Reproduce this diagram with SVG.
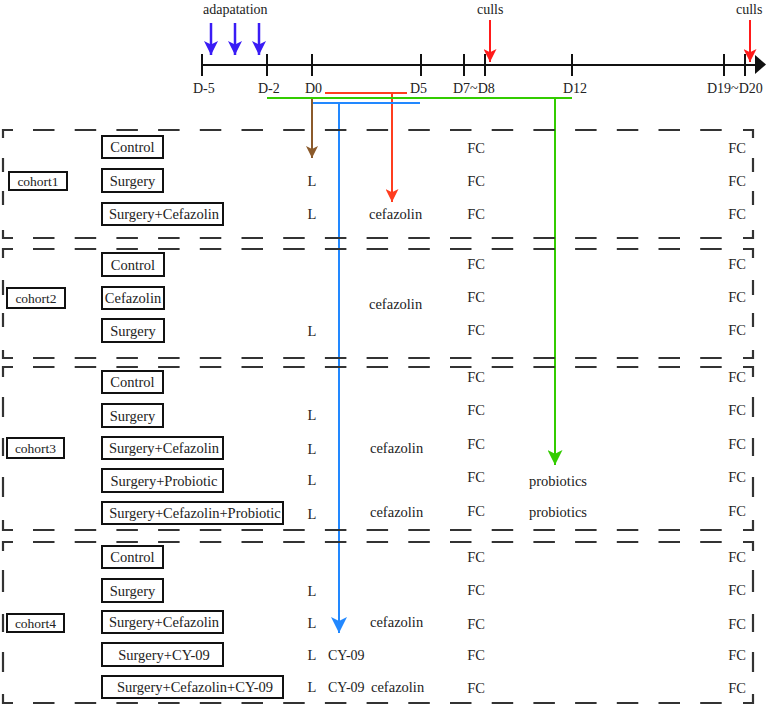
<svg xmlns="http://www.w3.org/2000/svg" width="767" height="708" viewBox="0 0 767 708">
<style>
text{font-family:"Liberation Serif","Times New Roman",serif;fill:#222;font-size:14.5px}
.d{font-size:14px}
.c{font-size:13.5px;text-anchor:middle}
.m{text-anchor:middle}
.box{fill:#fff;stroke:#111;stroke-width:2}
.tl{stroke:#111;stroke-width:2;fill:none}
.dh{stroke:#333;stroke-width:2.2;fill:none;stroke-dasharray:21.5 20.2}
.ds{stroke:#333;stroke-width:2.2;fill:none}
</style>
<defs>
<marker id="ab" viewBox="0 0 10 10" refX="10" refY="5" markerWidth="14" markerHeight="14" markerUnits="userSpaceOnUse" orient="auto"><path d="M0,0 L10,5 L0,10 L2.5,5 z" fill="#3a1cf5"/></marker>
<marker id="ar" viewBox="0 0 10 10" refX="10" refY="5" markerWidth="13" markerHeight="13" markerUnits="userSpaceOnUse" orient="auto"><path d="M0,0 L10,5 L0,10 L2.5,5 z" fill="#ff1a1a"/></marker>
<marker id="ao" viewBox="0 0 10 10" refX="10" refY="5" markerWidth="15" markerHeight="13" markerUnits="userSpaceOnUse" orient="auto"><path d="M0,0 L10,5 L0,10 L2.5,5 z" fill="#ff3d1f"/></marker>
<marker id="ag" viewBox="0 0 10 10" refX="10" refY="5" markerWidth="15" markerHeight="15" markerUnits="userSpaceOnUse" orient="auto"><path d="M0,0 L10,5 L0,10 L2.5,5 z" fill="#33cc00"/></marker>
<marker id="al" viewBox="0 0 10 10" refX="10" refY="5" markerWidth="16" markerHeight="16" markerUnits="userSpaceOnUse" orient="auto"><path d="M0,0 L10,5 L0,10 L2.5,5 z" fill="#2288ff"/></marker>
<marker id="an" viewBox="0 0 10 10" refX="10" refY="5" markerWidth="20" markerHeight="12" markerUnits="userSpaceOnUse" orient="auto"><path d="M0,0 L10,5 L0,10 L2.5,5 z" fill="#8b5a2b"/></marker>
</defs>

<g id="timeline">
<line class="tl" x1="202" y1="65" x2="756" y2="65"/>
<polygon points="755,55 766,64.5 755,74" fill="#111"/>
<path class="tl" d="M202,54V76 M267,54V76 M312,54V76 M421,54V76 M464,54V76 M485,54V76 M572,54V76 M724,54V76 M745,54V76"/>
<text class="d" x="193" y="93">D-5</text>
<text class="d" x="258" y="93">D-2</text>
<text class="d" x="305" y="93">D0</text>
<text class="d" x="410" y="93">D5</text>
<text class="d" x="453" y="93">D7~D8</text>
<text class="d" x="563" y="93">D12</text>
<text class="d" x="707" y="93">D19~D20</text>
<text class="d" x="203" y="14">adapatation</text>
<text class="d" x="477" y="14">culls</text>
<text class="d" x="736" y="14">culls</text>
</g>

<g id="connectors" fill="none" stroke-width="2">
<line x1="211" y1="23" x2="211" y2="55" stroke="#3a1cf5" stroke-width="2.5" marker-end="url(#ab)"/>
<line x1="235" y1="23" x2="235" y2="55" stroke="#3a1cf5" stroke-width="2.5" marker-end="url(#ab)"/>
<line x1="259" y1="23" x2="259" y2="55" stroke="#3a1cf5" stroke-width="2.5" marker-end="url(#ab)"/>
<line x1="490" y1="20" x2="490" y2="62" stroke="#ff1a1a" marker-end="url(#ar)"/>
<line x1="750" y1="20" x2="750" y2="62" stroke="#ff1a1a" marker-end="url(#ar)"/>
<line x1="312" y1="97" x2="312" y2="158" stroke="#8b5a2b" marker-end="url(#an)"/>
<line x1="325" y1="93" x2="407" y2="93" stroke="#ff3d1f"/>
<line x1="392" y1="93" x2="392" y2="202" stroke="#ff3d1f" marker-end="url(#ao)"/>
<line x1="267" y1="98" x2="572" y2="98" stroke="#33cc00"/>
<line x1="555" y1="98" x2="555" y2="465" stroke="#33cc00" marker-end="url(#ag)"/>
<line x1="313" y1="103" x2="420" y2="103" stroke="#2288ff"/>
<line x1="339" y1="103" x2="339" y2="633" stroke="#2288ff" marker-end="url(#al)"/>
</g>

<g id="cohort1-frame">
<path class="dh" d="M33,130H724 M33,238H724"/>
<path class="ds" d="M3,138V130H13 M743,130H753V138 M3,230V238H13 M743,238H753V230 M3,158V172 M3,191V205 M753,158V172 M753,191V205"/>
</g>
<g id="cohort2-frame">
<path class="dh" d="M33,249H724 M33,358H724"/>
<path class="ds" d="M3,258V249H13 M743,249H753V258 M3,350V358H13 M743,358H753V350 M3,280V295 M3,313V327 M753,280V295 M753,313V327"/>
</g>
<g id="cohort3-frame">
<path class="dh" d="M33,367H724 M33,530H724"/>
<path class="ds" d="M3,377V367H13 M743,367H753V377 M3,520V530H13 M743,530H753V520 M3,397V417 M3,438V456 M3,477V497 M753,397V417 M753,438V456 M753,477V497"/>
</g>
<g id="cohort4-frame">
<path class="dh" d="M33,542H724 M33,703H724"/>
<path class="ds" d="M3,551V542H13 M743,542H753V551 M3,694V703H13 M743,703H753V694 M3,570V592 M3,614V632 M3,652V672 M753,570V592 M753,614V632 M753,652V672"/>
</g>

<g id="cohort1">
<rect class="box" x="9" y="172" width="58" height="18"/><text class="c" x="38" y="186">cohort1</text>
<rect class="box" x="102" y="136" width="61" height="22"/><text class="m" x="132.5" y="152">Control</text>
<rect class="box" x="102" y="169" width="61" height="23"/><text class="m" x="132.5" y="185.5">Surgery</text>
<rect class="box" x="102" y="203" width="121" height="22"/><text class="m" x="164" y="219">Surgery+Cefazolin</text>
<text class="m" x="312" y="185.5">L</text><text class="m" x="312" y="219">L</text>
<text x="369" y="219">cefazolin</text>
<text class="m" x="476" y="153">FC</text><text class="m" x="476" y="185.5">FC</text><text class="m" x="476" y="219">FC</text>
<text class="m" x="737" y="153">FC</text><text class="m" x="737" y="185.5">FC</text><text class="m" x="737" y="219">FC</text>
</g>

<g id="cohort2">
<rect class="box" x="7" y="288" width="58" height="20"/><text class="c" x="36" y="303">cohort2</text>
<rect class="box" x="102" y="253" width="62" height="23"/><text class="m" x="133" y="269.5">Control</text>
<rect class="box" x="102" y="287" width="62" height="22"/><text class="m" x="133" y="303">Cefazolin</text>
<rect class="box" x="102" y="319" width="62" height="23"/><text class="m" x="133" y="335.5">Surgery</text>
<text class="m" x="312" y="335.5">L</text>
<text x="369" y="309">cefazolin</text>
<text class="m" x="476" y="269">FC</text><text class="m" x="476" y="302">FC</text><text class="m" x="476" y="335">FC</text>
<text class="m" x="737" y="269">FC</text><text class="m" x="737" y="302">FC</text><text class="m" x="737" y="335">FC</text>
</g>

<g id="cohort3">
<rect class="box" x="7" y="438" width="57" height="20"/><text class="c" x="35.5" y="453">cohort3</text>
<rect class="box" x="102" y="371" width="61" height="22"/><text class="m" x="132.5" y="387">Control</text>
<rect class="box" x="102" y="404" width="61" height="23"/><text class="m" x="132.5" y="420.5">Surgery</text>
<rect class="box" x="102" y="437" width="121" height="22"/><text class="m" x="164" y="453">Surgery+Cefazolin</text>
<rect class="box" x="102" y="469" width="121" height="23"/><text class="m" x="164" y="485.5">Surgery+Probiotic</text>
<rect class="box" x="102" y="502" width="181" height="22"/><text class="m" x="195" y="518">Surgery+Cefazolin+Probiotic</text>
<text class="m" x="312" y="420">L</text><text class="m" x="312" y="454">L</text><text class="m" x="312" y="485">L</text><text class="m" x="312" y="519">L</text>
<text x="370" y="453">cefazolin</text><text x="370" y="517">cefazolin</text>
<text x="529" y="486">probiotics</text><text x="529" y="517">probiotics</text>
<text class="m" x="476" y="382">FC</text><text class="m" x="476" y="415">FC</text><text class="m" x="476" y="449">FC</text><text class="m" x="476" y="482">FC</text><text class="m" x="476" y="516">FC</text>
<text class="m" x="737" y="382">FC</text><text class="m" x="737" y="415">FC</text><text class="m" x="737" y="449">FC</text><text class="m" x="737" y="482">FC</text><text class="m" x="737" y="516">FC</text>
</g>

<g id="cohort4">
<rect class="box" x="7" y="614" width="57" height="18"/><text class="c" x="35.5" y="628">cohort4</text>
<rect class="box" x="102" y="546" width="61" height="22"/><text class="m" x="132.5" y="562">Control</text>
<rect class="box" x="102" y="579" width="61" height="23"/><text class="m" x="132.5" y="595.5">Surgery</text>
<rect class="box" x="102" y="611" width="121" height="22"/><text class="m" x="164" y="627">Surgery+Cefazolin</text>
<rect class="box" x="102" y="643" width="121" height="23"/><text class="m" x="164" y="659.5">Surgery+CY-09</text>
<rect class="box" x="102" y="676" width="181" height="22"/><text class="m" x="195" y="692">Surgery+Cefazolin+CY-09</text>
<text class="m" x="312" y="595.5">L</text><text class="m" x="312" y="628">L</text><text class="m" x="312" y="659.5">L</text><text class="m" x="312" y="692">L</text>
<text x="370" y="627">cefazolin</text>
<text class="d" x="328" y="659.5">CY-09</text><text class="d" x="328" y="692">CY-09</text><text x="371" y="692">cefazolin</text>
<text class="m" x="476" y="562">FC</text><text class="m" x="476" y="595">FC</text><text class="m" x="476" y="629">FC</text><text class="m" x="476" y="660">FC</text><text class="m" x="476" y="693">FC</text>
<text class="m" x="737" y="562">FC</text><text class="m" x="737" y="595">FC</text><text class="m" x="737" y="629">FC</text><text class="m" x="737" y="660">FC</text><text class="m" x="737" y="693">FC</text>
</g>
</svg>
